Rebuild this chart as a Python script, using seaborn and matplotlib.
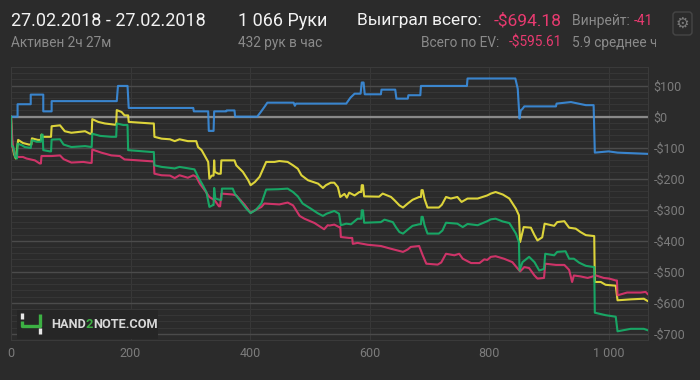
import matplotlib
matplotlib.use("Agg")
import matplotlib.pyplot as plt
import matplotlib.ticker as mticker
from matplotlib.patches import Rectangle, FancyBboxPatch
import seaborn as sns
import pandas as pd

# ---------------- data (hands, $ won) ----------------
blue_pts = [(0, 0), (11, 0), (11, 40), (33, 40), (33, 71), (54, 71), (54, 17), (68, 17), (68, 50),
            (177, 50), (179, 99), (195, 99), (197, 28), (305, 28), (306, 17), (330, 17), (331, -46),
            (339, -46), (340, 17), (360, 17), (361, 20), (374, 20), (375, 0), (412, 0), (418, 15),
            (424, 31), (429, 45), (473, 45), (475, 35), (477, 42), (561, 42), (568, 61), (575, 74),
            (585, 74), (587, 110), (590, 110), (592, 72), (619, 72), (620, 87), (643, 87), (645, 58),
            (664, 58), (665, 69), (685, 69), (686, 99), (763, 99), (764, 123), (844, 123), (848, 90),
            (851, -6), (853, 20), (856, 25), (859, 33), (912, 33), (913, 42), (937, 47), (962, 37),
            (975, 37), (977, -116), (1000, -112), (1015, -116), (1066, -120)]

yellow_pts = [(0, 0), (2, -90), (5, -120), (8, -135), (12, -75), (20, -85), (30, -90), (34, -90), (35, -70),
              (45, -75), (50, -75), (51, -58), (53, -65), (67, -65), (68, -31), (82, -28), (90, -47),
              (101, -52), (124, -47), (132, -55), (135, -55), (136, -8), (146, -17), (157, -22), (174, -26),
              (176, -26), (177, 21), (185, 15), (190, 4), (196, 4), (197, -17), (235, -22), (239, -22),
              (240, -65), (252, -71), (266, -73), (274, -79), (282, -73), (296, -79), (310, -79), (313, -98),
              (319, -108), (324, -125), (330, -146), (332, -200), (336, -190), (339, -190), (340, -141),
              (341, -178), (347, -184), (351, -184), (352, -141), (374, -141), (377, -157), (388, -178),
              (397, -205), (401, -221), (408, -211), (416, -194), (422, -168), (427, -146), (441, -146),
              (449, -143), (463, -146), (472, -157), (480, -168), (486, -189), (497, -205), (514, -216),
              (522, -230), (527, -221), (535, -213), (541, -213), (547, -227), (551, -259), (558, -249),
              (562, -261), (566, -245), (575, -254), (583, -243), (586, -243), (587, -221), (589, -221),
              (591, -257), (616, -258), (622, -248), (636, -259), (642, -270), (650, -286), (656, -293),
              (664, -280), (672, -268), (683, -259), (686, -259), (687, -237), (689, -237), (692, -265),
              (697, -293), (716, -293), (721, -284), (728, -259), (736, -264), (747, -259), (754, -275),
              (764, -264), (781, -264), (797, -254), (803, -248), (811, -243), (823, -251), (834, -264),
              (845, -297), (850, -318), (852, -404), (858, -356), (870, -358), (876, -382), (881, -399),
              (889, -389), (893, -345), (909, -352), (914, -340), (926, -337), (934, -358), (945, -361),
              (953, -372), (962, -382), (976, -385), (977, -533), (987, -533), (995, -542), (1012, -545),
              (1015, -592), (1037, -589), (1059, -587), (1066, -595)]

green_pts = [(0, 0), (1, -93), (4, -98), (7, -130), (10, -135), (11, -87), (18, -92), (23, -98), (33, -101),
             (35, -76), (43, -81), (50, -81), (51, -58), (53, -58), (54, -108), (65, -112), (67, -112),
             (68, -74), (82, -73), (88, -90), (101, -98), (124, -95), (135, -98), (136, -55), (149, -62),
             (168, -65), (176, -65), (177, -22), (188, -27), (195, -27), (196, -108), (235, -114),
             (239, -114), (240, -157), (252, -162), (266, -165), (274, -167), (282, -162), (307, -170),
             (313, -194), (321, -221), (327, -243), (332, -291), (338, -285), (339, -285), (340, -230),
             (342, -264), (349, -268), (352, -268), (353, -232), (371, -232), (375, -250), (385, -275),
             (394, -297), (401, -311), (410, -300), (419, -280), (427, -235), (447, -234), (463, -232),
             (472, -243), (480, -257), (488, -280), (502, -297), (513, -311), (522, -320), (528, -313),
             (541, -304), (549, -313), (552, -350), (561, -345), (569, -347), (580, -329), (586, -329),
             (587, -302), (589, -302), (591, -342), (619, -340), (625, -332), (639, -340), (644, -356),
             (650, -372), (656, -377), (664, -364), (672, -352), (683, -347), (686, -347), (687, -323),
             (689, -323), (692, -350), (697, -377), (716, -377), (722, -367), (728, -342), (747, -345),
             (756, -356), (764, -346), (781, -350), (797, -337), (803, -331), (811, -329), (823, -338),
             (834, -343), (845, -377), (850, -404), (851, -496), (856, -469), (867, -452), (876, -469),
             (884, -496), (892, -491), (894, -442), (909, -447), (914, -436), (928, -434), (934, -458),
             (942, -458), (951, -471), (962, -481), (976, -485), (977, -632), (984, -635), (995, -640),
             (1012, -645), (1015, -692), (1037, -684), (1059, -684), (1066, -689)]

pink_pts = [(0, 0), (3, -100), (7, -125), (12, -130), (20, -130), (26, -135), (40, -141), (48, -151),
            (50, -151), (51, -127), (68, -127), (82, -125), (88, -137), (101, -148), (121, -146),
            (132, -149), (135, -149), (136, -106), (151, -116), (168, -125), (182, -127), (190, -138),
            (213, -141), (235, -144), (239, -144), (240, -184), (252, -189), (266, -190), (274, -198),
            (282, -189), (296, -197), (305, -189), (310, -194), (316, -216), (324, -237), (332, -259),
            (341, -270), (348, -289), (350, -289), (352, -248), (371, -251), (377, -254), (391, -284),
            (401, -310), (410, -300), (419, -291), (424, -280), (449, -283), (463, -277), (472, -286),
            (483, -320), (491, -329), (508, -343), (524, -363), (530, -350), (533, -351), (541, -348),
            (549, -356), (551, -356), (552, -388), (566, -391), (571, -391), (572, -410), (580, -407),
            (597, -413), (619, -417), (636, -426), (656, -436), (664, -428), (669, -420), (683, -417),
            (689, -447), (695, -474), (714, -477), (720, -470), (728, -442), (742, -447), (750, -442),
            (756, -458), (770, -472), (784, -472), (792, -460), (797, -462), (803, -452), (811, -450),
            (825, -458), (839, -469), (848, -490), (852, -499), (859, -485), (867, -488), (876, -512),
            (881, -522), (892, -520), (894, -474), (912, -478), (926, -478), (934, -494), (939, -533),
            (942, -512), (953, -515), (965, -520), (979, -512), (992, -520), (1001, -522), (1012, -528),
            (1014, -528), (1015, -576), (1031, -567), (1054, -567), (1062, -565), (1066, -573)]

x_ticks = [0, 200, 400, 600, 800, 1000]
x_tick_labels = ["0", "200", "400", "600", "800", "1 000"]
y_ticks = [100, 0, -100, -200, -300, -400, -500, -600, -700]
y_tick_labels = ["$100", "$0", "-$100", "-$200", "-$300", "-$400", "-$500", "-$600", "-$700"]

series_order = ["yellow", "pink", "blue", "green"]
series_points = {"blue": blue_pts, "yellow": yellow_pts, "green": green_pts, "pink": pink_pts}
colors = {"blue": "#3b8fe0", "yellow": "#f0e63c", "green": "#16b36b", "pink": "#e0356f"}

BG = "#2b2b2b"

sns.set_theme(style="dark")
plt.rcParams["font.family"] = ["Roboto", "DejaVu Sans"]

fig = plt.figure(figsize=(7, 3.8), dpi=100, facecolor=BG)
W, H = 700, 380
L, R, T, B = 11, 648, 67, 340
ax = fig.add_axes([L / W, 1 - B / H, (R - L) / W, (B - T) / H])
ax.set_facecolor(BG)

for name in series_order:
    pts = series_points[name]
    df = pd.DataFrame(pts, columns=["hand", "won"])
    sns.lineplot(data=df, x="hand", y="won", sort=False, estimator=None, color=colors[name],
                 linewidth=1.5, alpha=0.9, ax=ax, zorder=3)

ax.set_xlim(0, 1066)
ax.set_ylim(-720, 160)
ax.set_xlabel("")
ax.set_ylabel("")

ax.yaxis.tick_right()
ax.set_yticks(y_ticks)
ax.set_yticklabels(y_tick_labels)
ax.yaxis.set_minor_locator(mticker.MultipleLocator(20))
ax.set_xticks(x_ticks)
ax.set_xticklabels(x_tick_labels)
ax.tick_params(axis="both", which="both", length=0, colors="#7c7c7c", labelsize=9)
ax.tick_params(axis="y", pad=4)
ax.tick_params(axis="x", pad=5)

ax.grid(False)
ax.grid(axis="y", which="minor", color="#363636", linewidth=0.8, zorder=0)
ax.grid(axis="y", which="major", color="#4b4b4b", linewidth=1.0, zorder=0)
ax.grid(axis="x", which="major", color="#383838", linewidth=0.8, zorder=0)
ax.axhline(0, color="#8a8a8a", linewidth=1.6, zorder=2)
for s in ax.spines.values():
    s.set_color("#3a3a3a")
    s.set_linewidth(0.8)

# ---------------- overlay (header, logo) ----------------
ov = fig.add_axes([0, 0, 1, 1], facecolor="none", zorder=5)
ov.set_xlim(0, W)
ov.set_ylim(H, 0)
ov.axis("off")

WHITE = "#f2f2f2"
GREY = "#8a8a8a"
PINK = "#e83a70"

ov.text(11, 21, "27.02.2018 - 27.02.2018", color=WHITE, fontsize=13, va="center", ha="left")
ov.text(11, 43, "Активен 2ч 27м", color=GREY, fontsize=9.8, va="center", ha="left")
ov.text(238, 21, "1 066 Руки", color=WHITE, fontsize=13, va="center", ha="left")
ov.text(238, 43, "432 рук в час", color=GREY, fontsize=9.8, va="center", ha="left")
ov.text(486, 21, "Выиграл всего: ", color=WHITE, fontsize=12.5, va="center", ha="right")
ov.text(562, 21, "-$694.18", color=PINK, fontsize=12.5, va="center", ha="right")
ov.text(572, 21, "Винрейт: ", color=GREY, fontsize=10, va="center", ha="left")
ov.text(634, 21, "-41", color=PINK, fontsize=10, va="center", ha="left")
ov.text(503, 43, "Всего по EV: ", color=GREY, fontsize=9.8, va="center", ha="right")
ov.text(562, 43, "-$595.61", color=PINK, fontsize=9.8, va="center", ha="right")
ov.text(572, 43, "5.9 среднее ч", color=GREY, fontsize=9.8, va="center", ha="left")
ov.add_patch(Rectangle((656, 30), 14, 25, facecolor=BG, edgecolor="none", zorder=6))

ov.add_patch(FancyBboxPatch((673, 12), 19, 23, boxstyle="round,pad=0,rounding_size=3",
                            facecolor=BG, edgecolor="#464646", linewidth=1.0, zorder=7))
ov.text(682.5, 23.5, "⚙", color="#7a7a7a", fontsize=11, va="center", ha="center",
        family="DejaVu Sans", zorder=8)

# logo
ov.add_patch(Rectangle((17, 310), 141, 29, facecolor="#262626", edgecolor="none", zorder=4))
ov.plot([22, 22], [313, 319], color="#e6e6e6", lw=2.4, solid_capstyle="butt", zorder=5)
ov.plot([22, 22, 40, 40], [321, 326, 326, 314], color="#3cb043", lw=2.4, solid_capstyle="butt", zorder=5)
ov.plot([40, 40], [328, 334], color="#e6e6e6", lw=2.4, solid_capstyle="butt", zorder=5)
x0 = 51
fig.canvas.draw()
for part, col in [("HAND", "#d8d8d8"), ("2", "#3cb043"), ("NOTE.COM", "#d8d8d8")]:
    t = ov.text(x0, 324.5, part, color=col, fontsize=9.2, fontweight="bold", va="center", ha="left",
                zorder=6)
    fig.canvas.draw()
    bb = t.get_window_extent()
    x0 += bb.width * W / fig.bbox.width

fig.savefig("out.png", dpi=100, facecolor=BG)
